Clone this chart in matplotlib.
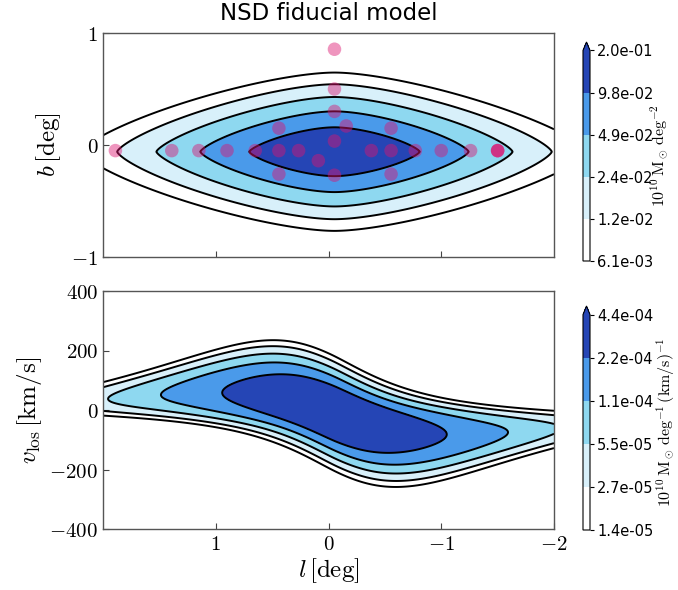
import numpy as np
import matplotlib
matplotlib.use('Agg')
import matplotlib.pyplot as plt
from matplotlib.ticker import FuncFormatter

plt.rcParams['mathtext.fontset'] = 'cm'
plt.rcParams['font.family'] = ['DejaVu Sans']

# ---------------- data ----------------
title = 'NSD fiducial model'
levels_lb = [6.1e-3, 1.2e-2, 2.4e-2, 4.9e-2, 9.8e-2, 2.0e-1]
levels_lv = [1.4e-5, 2.7e-5, 5.5e-5, 1.1e-4, 2.2e-4, 4.4e-4]
fill_colors = ['#ffffff', '#d8f0fa', '#8ed8f0', '#4a9aea', '#2545b5', '#2545b5']

# observed fields (l, b) in deg
pt_l = [1.89, 1.39, 1.15, 0.90, 0.65, 0.44, 0.265, 0.44, 0.44, 0.09,
        -0.053, -0.053, -0.053, -0.157, -0.053, -0.053,
        -0.38, -0.555, -0.555, -0.555, -0.77, -1.00, -1.26, -1.50, -1.50, -1.50]
pt_b = [-0.05, -0.05, -0.05, -0.05, -0.05, -0.05, -0.05, 0.15, -0.26, -0.14,
        0.855, 0.50, 0.30, 0.17, 0.035, -0.27,
        -0.05, -0.05, 0.15, -0.26, -0.05, -0.05, -0.05, -0.05, -0.05, -0.05]

# model parameters
l_center, b_center, v_center = -0.053, -0.06, -12.0
peak_lb = 0.20
Lb, pb = 0.28, 1.35
Rd, nR = 0.72, 1.25                 # radial density profile of the disc
peak_lv = 5.8e-4
V0, a_rise, R_fall, m_fall = 130.0, 0.60, 2.4, 2.0
sig_out, sig_in, R_sig, k_sig = 24.0, 53.0, 1.6, 2.0

xlim = (2.0, -2.0)

# ---------------- fields ----------------
lg = np.linspace(-2.0, 2.0, 401)
bg = np.linspace(-1.0, 1.0, 301)
vg = np.linspace(-400, 400, 401)
lp = lg - l_center

yg = np.linspace(-8, 8, 801)
Vp = (vg - v_center)[:, None]
field = np.zeros((len(vg), len(lg)))
proj = np.zeros(len(lg))
for y in yg:
    R = np.maximum(np.sqrt(lp ** 2 + y ** 2), 1e-6)
    rho = np.exp(-(R / Rd) ** nR)
    proj += rho
    u = V0 * np.tanh(R / a_rise) * np.exp(-(R / R_fall) ** m_fall)
    vl = u * lp / R
    sig = sig_out + sig_in * np.exp(-(R / R_sig) ** k_sig)
    field += (rho / sig)[None, :] * np.exp(-0.5 * ((Vp - vl[None, :]) / sig[None, :]) ** 2)
Z_lv = peak_lv * field / field.max()

gb = np.exp(-(np.abs(bg - b_center) / Lb) ** pb)
Z_lb = peak_lb * gb[:, None] * (proj / proj.max())[None, :]

# ---------------- figure ----------------
W, H = 678, 590
fig = plt.figure(figsize=(W / 100, H / 100), dpi=100)

def frac(x0, y0, x1, y1):
    return [x0 / W, 1 - y1 / H, (x1 - x0) / W, (y1 - y0) / H]

ax1 = fig.add_axes(frac(103, 33, 554, 257))
ax2 = fig.add_axes(frac(103, 291, 554, 529))
cax1 = fig.add_axes(frac(583, 42, 590, 261))
cax2 = fig.add_axes(frac(583, 306, 590, 530))

mathfmt = FuncFormatter(lambda v, p: r'$%g$' % v)

cf1 = ax1.contourf(lg, bg, Z_lb, levels=levels_lb, colors=fill_colors, extend='max')
ax1.contour(lg, bg, Z_lb, levels=levels_lb[:-1], colors='k', linewidths=1.4)
ax1.scatter(pt_l, pt_b, s=95, color='#dc1470', alpha=0.45, edgecolors='none', zorder=3)
ax1.set_xlim(*xlim)
ax1.set_ylim(-1, 1)
ax1.set_xticks([1, 0, -1])
ax1.set_xticklabels([])
ax1.set_yticks([-1, 0, 1])
ax1.yaxis.set_major_formatter(mathfmt)
ax1.set_ylabel(r'$b\,[\mathrm{deg}]$', fontsize=18, labelpad=6)
ax1.set_title(title, fontsize=16.5, pad=9)

cf2 = ax2.contourf(lg, vg, Z_lv, levels=levels_lv, colors=fill_colors, extend='max')
ax2.contour(lg, vg, Z_lv, levels=levels_lv[:-1], colors='k', linewidths=1.4)
ax2.set_xlim(*xlim)
ax2.set_ylim(-400, 400)
ax2.set_xticks([1, 0, -1, -2])
ax2.set_yticks([-400, -200, 0, 200, 400])
ax2.xaxis.set_major_formatter(mathfmt)
ax2.yaxis.set_major_formatter(mathfmt)
ax2.set_ylabel(r'$v_{\rm los}\,[\mathrm{km/s}]$', fontsize=18, labelpad=4)
ax2.set_xlabel(r'$l\,[\mathrm{deg}]$', fontsize=18, labelpad=2)

for ax in (ax1, ax2):
    ax.tick_params(direction='in', length=4, width=0.8, labelsize=15, color='#444444')
    for s in ax.spines.values():
        s.set_color('#555555')
        s.set_linewidth(1.0)

cb1 = fig.colorbar(cf1, cax=cax1, ticks=levels_lb, format='%.1e', extendfrac=0.04)
cb1.set_label(r'$10^{10}\,\mathrm{M_\odot\,deg^{-2}}$', fontsize=11.5)
cb2 = fig.colorbar(cf2, cax=cax2, ticks=levels_lv, format='%.1e', extendfrac=0.04)
cb2.set_label(r'$10^{10}\,\mathrm{M_\odot\,deg^{-1}\,(km/s)^{-1}}$', fontsize=11.5)
for cb in (cb1, cb2):
    cb.ax.tick_params(labelsize=10.5, length=3, width=0.8, pad=2)
    cb.outline.set_linewidth(0.8)
cb1.ax.yaxis.set_label_coords(9.4, 0.5)
cb2.ax.yaxis.set_label_coords(10.2, 0.5)

fig.savefig('out.png', dpi=100)
